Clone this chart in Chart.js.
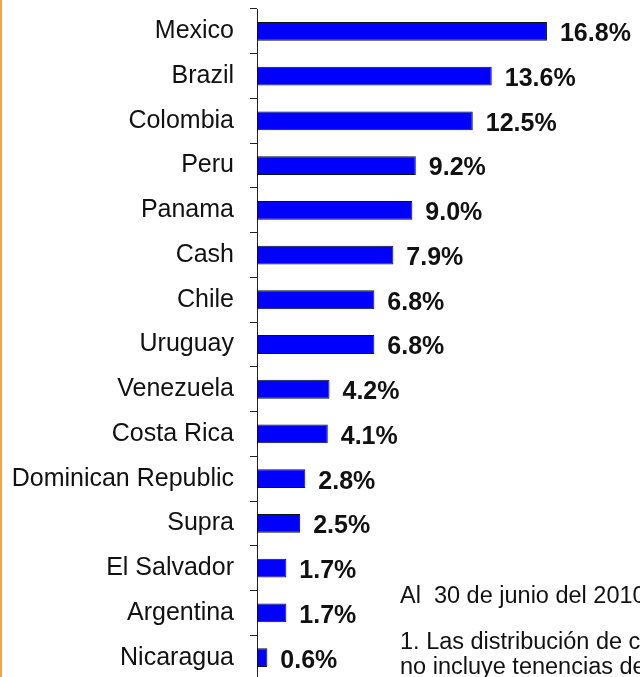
<!DOCTYPE html>
<html>
<head>
<meta charset="utf-8">
<script src="https://cdn.jsdelivr.net/npm/chart.js@4/dist/chart.umd.min.js"></script>
<style>
    html, body { margin: 0; padding: 0; background: #fff; }
    body { width: 640px; height: 677px; overflow: hidden; position: relative; font-family: "Liberation Sans", Arial, sans-serif; }
    #wrap { position: absolute; left: 0; top: 0; width: 640px; height: 680px; }
    #edge { position: absolute; left: 0; top: 0; width: 2px; height: 677px; background: #F2A444; }
    .note { position: absolute; left: 400px; font-size: 23.5px; line-height: 25px; color: #111; white-space: pre; }
</style>
</head>
<body>
<div id="wrap"><canvas id="bars"></canvas></div>
<div id="edge"></div>
<div class="note" style="top:583px;">Al  30 de junio del 2010</div>
<div class="note" style="top:629px;">1. Las distribución de cartera
no incluye tenencias de</div>
<script>
// --- Portfolio distribution by country ---
const countries = ['Mexico', 'Brazil', 'Colombia', 'Peru', 'Panama', 'Cash', 'Chile', 'Uruguay',
    'Venezuela', 'Costa Rica', 'Dominican Republic', 'Supra', 'El Salvador', 'Argentina', 'Nicaragua'];
const shares = [16.8, 13.6, 12.5, 9.2, 9.0, 7.9, 6.8, 6.8, 4.2, 4.1, 2.8, 2.5, 1.7, 1.7, 0.6];
const xMax = 22.19;

const fontFamily = '"Liberation Sans", Arial, sans-serif';

// value labels to the right of each bar
const valueLabels = {
    id: 'valueLabels',
    afterDatasetsDraw(chart) {
        const ctx = chart.ctx;
        const meta = chart.getDatasetMeta(0);
        ctx.save();
        ctx.font = 'bold 25px ' + fontFamily;
        ctx.fillStyle = '#111';
        ctx.textAlign = 'left';
        ctx.textBaseline = 'middle';
        meta.data.forEach((bar, i) => {
            ctx.fillText(shares[i].toFixed(1) + '%', bar.x + 13, bar.y + 3);
        });
        ctx.restore();
    }
};

new Chart(document.getElementById('bars'), {
    type: 'bar',
    data: {
        labels: countries,
        datasets: [{
            data: shares,
            backgroundColor: '#0000FF',
            borderColor: '#111',
            borderWidth: 1,
            borderSkipped: false,
            barPercentage: 0.42,
            categoryPercentage: 1
        }]
    },
    options: {
        indexAxis: 'y',
        responsive: true,
        maintainAspectRatio: false,
        animation: false,
        layout: { padding: { top: 9, right: 0, bottom: 0, left: 0 } },
        plugins: {
            legend: { display: false },
            tooltip: { enabled: false }
        },
        scales: {
            x: { display: false, min: 0, max: xMax },
            y: {
                grid: { drawOnChartArea: false, drawTicks: true, tickLength: 7, color: '#222', offset: true },
                border: { color: '#222', width: 1 },
                ticks: { color: '#111', padding: 16, autoSkip: false, font: { size: 25, family: fontFamily } },
                afterFit: axis => {
                    axis.width = 257;
                    // no extra room above/below for the first and last labels
                    axis.paddingTop = 0;
                    axis.paddingBottom = 0;
                }
            }
        }
    },
    plugins: [valueLabels]
});
</script>
</body>
</html>
